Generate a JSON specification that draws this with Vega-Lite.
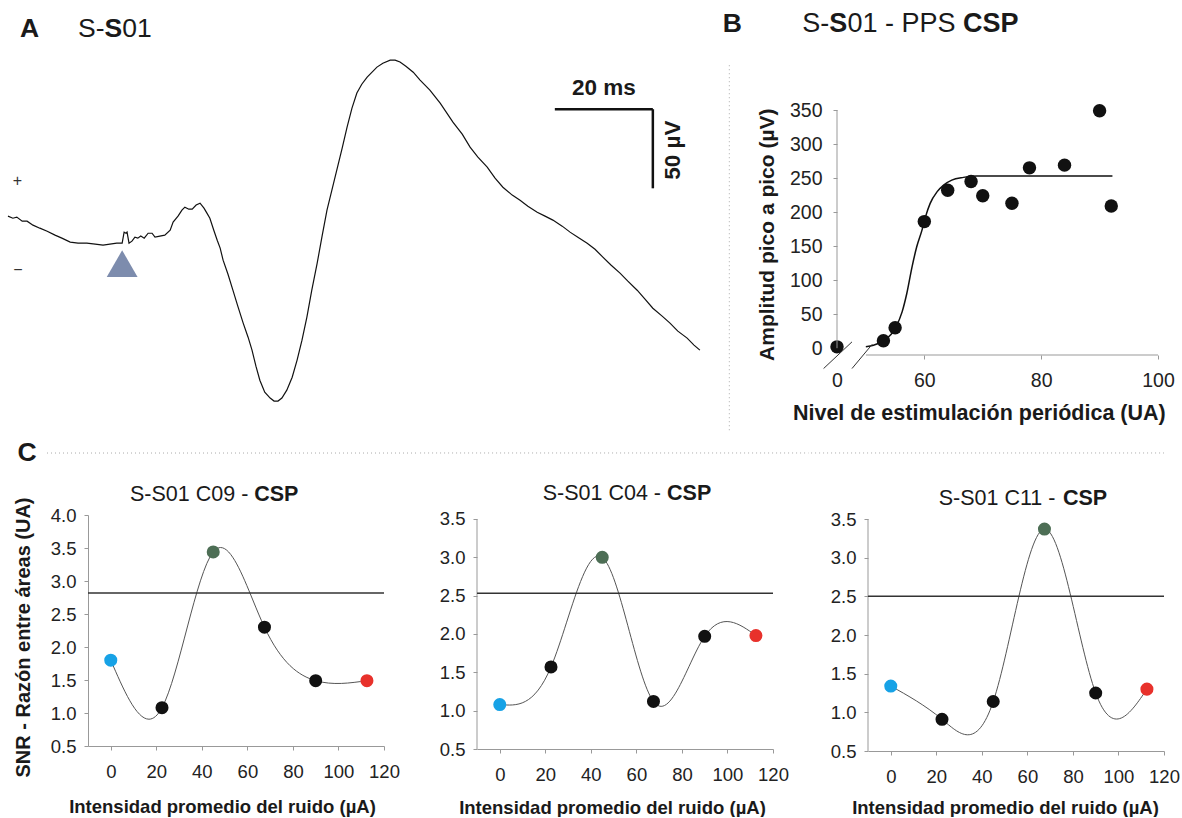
{
  "$schema": "https://vega.github.io/schema/vega-lite/v6.json",
  "autosize": {"type": "pad"},
  "padding": {"left": 5, "top": 5, "right": 0, "bottom": 0},
  "background": "white",
  "config": {
    "view": {"stroke": null},
    "font": "Liberation Sans",
    "axis": {"grid": false, "domainColor": "#999", "tickColor": "#999", "labelColor": "#222", "titleColor": "#1a1a1a", "labelFont": "Liberation Sans", "titleFont": "Liberation Sans", "labelOverlap": false, "labelFlush": false}
  },
  "datasets": {
    "trace": [
      {"t":0,"v":0},{"t":1.0,"v":-1.3},{"t":1.8,"v":-0.6},{"t":2.9,"v":-3.2},{"t":3.9,"v":-3.2},{"t":5.1,"v":-5.7},{"t":6.5,"v":-7.6},{"t":8.0,"v":-9.5},{"t":9.6,"v":-12.0},{"t":11.0,"v":-13.9},{"t":12.7,"v":-16.4},{"t":14.3,"v":-17.1},{"t":16.1,"v":-17.1},{"t":17.8,"v":-17.7},{"t":19.4,"v":-18.3},{"t":20.8,"v":-17.7},{"t":22.2,"v":-17.1},{"t":23.3,"v":-17.1},{"t":23.7,"v":-10.1},{"t":24.1,"v":-10.8},{"t":24.3,"v":-10.1},{"t":24.7,"v":-17.1},{"t":25.3,"v":-15.8},{"t":25.9,"v":-13.3},{"t":26.5,"v":-13.9},{"t":27.1,"v":-12.6},{"t":27.8,"v":-13.9},{"t":28.6,"v":-10.8},{"t":29.4,"v":-10.8},{"t":30.0,"v":-13.3},{"t":31.0,"v":-12.6},{"t":32.0,"v":-12.0},{"t":33.1,"v":-8.9},{"t":33.7,"v":-3.8},{"t":34.7,"v":0},{"t":35.5,"v":3.8},{"t":36.1,"v":5.7},{"t":36.9,"v":4.4},{"t":37.6,"v":4.4},{"t":38.4,"v":7.0},{"t":39.2,"v":8.2},{"t":40.0,"v":5.1},{"t":40.6,"v":1.9},{"t":41.2,"v":-1.3},{"t":42.0,"v":-8.9},{"t":42.7,"v":-15.2},{"t":43.3,"v":-20.2},{"t":43.9,"v":-27.8},{"t":44.9,"v":-36.7},{"t":45.9,"v":-46.8},{"t":46.9,"v":-56.9},{"t":48.0,"v":-67.6},{"t":49.0,"v":-76.5},{"t":49.8,"v":-84.7},{"t":50.6,"v":-94.8},{"t":51.4,"v":-103.7},{"t":52.4,"v":-111.3},{"t":53.5,"v":-115.0},{"t":54.3,"v":-116.9},{"t":55.1,"v":-116.9},{"t":55.9,"v":-115.0},{"t":56.9,"v":-110.0},{"t":58.0,"v":-101.8},{"t":59.0,"v":-91.0},{"t":60.0,"v":-78.4},{"t":61.0,"v":-63.8},{"t":62.0,"v":-46.8},{"t":63.1,"v":-29.7},{"t":64.1,"v":-12.6},{"t":65.1,"v":3.8},{"t":66.1,"v":16.4},{"t":67.1,"v":29.1},{"t":68.2,"v":43.0},{"t":69.2,"v":56.3},{"t":70.2,"v":68.3},{"t":71.2,"v":77.8},{"t":72.2,"v":83.4},{"t":73.3,"v":87.9},{"t":74.3,"v":91.0},{"t":75.3,"v":94.2},{"t":76.5,"v":96.7},{"t":78.0,"v":98.6},{"t":79.0,"v":98.6},{"t":80.0,"v":97.4},{"t":81.2,"v":94.8},{"t":82.7,"v":91.0},{"t":84.1,"v":86.0},{"t":86.1,"v":79.7},{"t":88.2,"v":71.4},{"t":90.8,"v":59.4},{"t":92.7,"v":51.8},{"t":94.3,"v":43.6},{"t":95.9,"v":37.3},{"t":97.8,"v":31.0},{"t":99.4,"v":24.0},{"t":101.0,"v":18.3},{"t":102.9,"v":13.3},{"t":104.5,"v":10.1},{"t":106.1,"v":6.3},{"t":108.0,"v":2.5},{"t":109.6,"v":0},{"t":111.2,"v":-2.5},{"t":113.1,"v":-6.3},{"t":114.7,"v":-10.1},{"t":116.3,"v":-13.3},{"t":118.2,"v":-17.1},{"t":119.8,"v":-20.9},{"t":121.4,"v":-25.9},{"t":123.1,"v":-31.0},{"t":124.9,"v":-36.0},{"t":126.5,"v":-41.1},{"t":128.4,"v":-46.8},{"t":130.0,"v":-52.5},{"t":131.6,"v":-58.2},{"t":133.5,"v":-63.2},{"t":135.1,"v":-67.6},{"t":136.7,"v":-72.7},{"t":138.6,"v":-77.1},{"t":140.0,"v":-81.5},{"t":141.2,"v":-84.7}
    ],
    "pps": [
      {"nivel":0,"amplitud":2},{"nivel":53,"amplitud":11},{"nivel":55,"amplitud":30},{"nivel":60,"amplitud":186},{"nivel":64,"amplitud":232},{"nivel":68,"amplitud":245},{"nivel":70,"amplitud":224},{"nivel":75,"amplitud":213},{"nivel":78,"amplitud":265},{"nivel":84,"amplitud":269},{"nivel":90,"amplitud":349},{"nivel":92,"amplitud":209}
    ],
    "ajuste": [
      {"nivel":49.9,"amplitud":2},{"nivel":51.3,"amplitud":4.4},{"nivel":53,"amplitud":10.8},{"nivel":55,"amplitud":28.9},{"nivel":56.2,"amplitud":53.4},{"nivel":57,"amplitud":80.4},{"nivel":57.9,"amplitud":119.6},{"nivel":58.7,"amplitud":149},{"nivel":59.6,"amplitud":173.5},{"nivel":60.2,"amplitud":193},{"nivel":61,"amplitud":212.8},{"nivel":62.2,"amplitud":230},{"nivel":63.3,"amplitud":239.7},{"nivel":64.7,"amplitud":247},{"nivel":66.7,"amplitud":251},{"nivel":69,"amplitud":253},{"nivel":92.2,"amplitud":253}
    ],
    "snr": [
      {"panel":"C09","ruido":0,"snr":1.80,"grupo":"inicial"},
      {"panel":"C09","ruido":22.5,"snr":1.08,"grupo":"intermedio"},
      {"panel":"C09","ruido":45,"snr":3.44,"grupo":"maximo"},
      {"panel":"C09","ruido":67.5,"snr":2.30,"grupo":"intermedio"},
      {"panel":"C09","ruido":90,"snr":1.49,"grupo":"intermedio"},
      {"panel":"C09","ruido":112.5,"snr":1.49,"grupo":"final"},
      {"panel":"C04","ruido":0,"snr":1.08,"grupo":"inicial"},
      {"panel":"C04","ruido":22.5,"snr":1.57,"grupo":"intermedio"},
      {"panel":"C04","ruido":45,"snr":3.00,"grupo":"maximo"},
      {"panel":"C04","ruido":67.5,"snr":1.12,"grupo":"intermedio"},
      {"panel":"C04","ruido":90,"snr":1.97,"grupo":"intermedio"},
      {"panel":"C04","ruido":112.5,"snr":1.98,"grupo":"final"},
      {"panel":"C11","ruido":0,"snr":1.34,"grupo":"inicial"},
      {"panel":"C11","ruido":22.5,"snr":0.91,"grupo":"intermedio"},
      {"panel":"C11","ruido":45,"snr":1.14,"grupo":"intermedio"},
      {"panel":"C11","ruido":67.5,"snr":3.37,"grupo":"maximo"},
      {"panel":"C11","ruido":90,"snr":1.25,"grupo":"intermedio"},
      {"panel":"C11","ruido":112.5,"snr":1.30,"grupo":"final"}
    ],
    "umbral": [
      {"panel":"C09","snr":2.82},
      {"panel":"C04","snr":2.53},
      {"panel":"C11","snr":2.50}
    ]
  },
  "spacing": 4,
  "vconcat": [
    {
      "hconcat": [
        {
          "width": 616,
          "height": 296,
          "layer": [
            {
              "data": {"name": "trace"},
              "mark": {"type": "line", "color": "#111", "strokeWidth": 1.2},
              "encoding": {
                "x": {"field": "t", "type": "quantitative", "scale": {"domain": [16.33, 142.04], "nice": false, "zero": false}, "axis": null},
                "y": {"field": "v", "type": "quantitative", "scale": {"domain": [-120, 67.1], "nice": false, "zero": false}, "axis": null}
              }
            },
            {
              "data": {"values": [{}]},
              "mark": {"type": "rule", "color": "#111", "strokeWidth": 2.5},
              "encoding": {"x": {"datum": 111.6}, "x2": {"datum": 131.6}, "y": {"datum": 67.6}}
            },
            {
              "data": {"values": [{}]},
              "mark": {"type": "rule", "color": "#111", "strokeWidth": 2.5},
              "encoding": {"x": {"datum": 131.6}, "y": {"datum": 67.6}, "y2": {"datum": 17.6}}
            },
            {
              "data": {"values": [{}]},
              "mark": {"type": "text", "text": "20 ms", "fontSize": 22.5, "fontWeight": "bold", "align": "center", "baseline": "middle", "color": "#1a1a1a"},
              "encoding": {"x": {"datum": 121.6}, "y": {"datum": 80.9}}
            },
            {
              "data": {"values": [{}]},
              "mark": {"type": "text", "text": "50 µV", "fontSize": 22.5, "fontWeight": "bold", "align": "center", "baseline": "middle", "angle": 270, "color": "#1a1a1a"},
              "encoding": {"x": {"datum": 135.7}, "y": {"datum": 41.7}}
            },
            {
              "data": {"values": [{}]},
              "mark": {"type": "text", "text": "+", "fontSize": 16, "align": "center", "baseline": "middle", "color": "#333"},
              "encoding": {"x": {"datum": 1.94}, "y": {"datum": 22.1}}
            },
            {
              "data": {"values": [{}]},
              "mark": {"type": "text", "text": "−", "fontSize": 16, "align": "center", "baseline": "middle", "color": "#333"},
              "encoding": {"x": {"datum": 2.04}, "y": {"datum": -34.1}}
            },
            {
              "data": {"values": [{}]},
              "mark": {"type": "point", "shape": "triangle-up", "size": 950, "filled": true, "color": "#7d8cad", "opacity": 1, "strokeWidth": 0},
              "encoding": {"x": {"datum": 23.3}, "y": {"datum": -30.0}}
            },
            {
              "data": {"values": [{}]},
              "mark": {"type": "text", "text": "A", "fontSize": 26.5, "fontWeight": "bold", "align": "center", "baseline": "alphabetic", "color": "#1a1a1a"},
              "encoding": {"x": {"datum": 4.39}, "y": {"datum": 113.0}}
            },
            {
              "data": {"values": [{}]},
              "mark": {"type": "text", "text": "S-", "fontSize": 26.5, "align": "left", "baseline": "alphabetic", "color": "#1a1a1a"},
              "encoding": {"x": {"datum": 14.29}, "y": {"datum": 113.0}}
            },
            {
              "data": {"values": [{}]},
              "mark": {"type": "text", "text": "S", "fontSize": 26.5, "fontWeight": "bold", "align": "left", "baseline": "alphabetic", "color": "#1a1a1a"},
              "encoding": {"x": {"datum": 19.69}, "y": {"datum": 113.0}}
            },
            {
              "data": {"values": [{}]},
              "mark": {"type": "text", "text": "01", "fontSize": 26.5, "align": "left", "baseline": "alphabetic", "color": "#1a1a1a"},
              "encoding": {"x": {"datum": 23.3}, "y": {"datum": 113.0}}
            }
          ]
        },
        {
          "width": 321,
          "height": 245,
          "layer": [
            {
              "data": {"name": "ajuste"},
              "mark": {"type": "line", "color": "#111", "strokeWidth": 1.5, "interpolate": "monotone"},
              "encoding": {
                "x": {"field": "nivel", "type": "quantitative",
                  "scale": {"domain": [0, 50, 100], "range": [0, 28.9, 321], "nice": false, "zero": false},
                  "axis": {"values": [0, 60, 80, 100], "tickCount": 20, "domain": false, "tickSize": 4, "labelOverlap": false, "labelFlush": false,
                    "tickOpacity": {"condition": {"test": "datum.value === 0", "value": 0}, "value": 1},
                    "labelFontSize": 19.5, "labelPadding": 12.5,
                    "title": "Nivel de estimulación periódica (UA)", "titleFontSize": 21.5, "titleFontWeight": "bold",
                    "titleX": 141.8, "titleY": 58.2, "titleAlign": "center", "titleBaseline": "middle"}},
                "y": {"field": "amplitud", "type": "quantitative",
                  "scale": {"domain": [-10, 350], "nice": false, "zero": false},
                  "axis": {"values": [0, 50, 100, 150, 200, 250, 300, 350], "tickCount": 20, "domain": false, "tickSize": 4, "labelOverlap": false, "labelFlush": false,
                    "labelFontSize": 19.5, "labelPadding": 11,
                    "title": "Amplitud pico a pico (µV)", "titleFontSize": 21, "titleFontWeight": "bold",
                    "titleX": -69.7, "titleY": 124.2, "titleAngle": 270, "titleAlign": "center", "titleBaseline": "middle"}}
              }
            },
            {
              "data": {"name": "pps"},
              "mark": {"type": "circle", "size": 180, "color": "#111", "opacity": 1},
              "encoding": {
                "x": {"field": "nivel", "type": "quantitative"},
                "y": {"field": "amplitud", "type": "quantitative"}
              }
            },
            {
              "data": {"values": [{}]},
              "mark": {"type": "rule", "color": "#999", "strokeWidth": 1},
              "encoding": {"x": {"datum": 0}, "y": {"datum": 0}, "y2": {"datum": 350}}
            },
            {
              "data": {"values": [{}]},
              "mark": {"type": "rule", "color": "#999", "strokeWidth": 1},
              "encoding": {"x": {"datum": 50}, "x2": {"datum": 100}, "y": {"datum": -10}}
            },
            {
              "data": {"values": [{}]},
              "mark": {"type": "rule", "color": "#333", "strokeWidth": 1},
              "encoding": {"x": {"datum": -23.2}, "y": {"datum": -29.9}, "x2": {"datum": 25.95}, "y2": {"datum": 9.3}}
            },
            {
              "data": {"values": [{}]},
              "mark": {"type": "rule", "color": "#333", "strokeWidth": 1},
              "encoding": {"x": {"datum": 25.95}, "y": {"datum": -29.9}, "x2": {"datum": 51.1}, "y2": {"datum": 5.9}}
            },
            {
              "data": {"values": [{}]},
              "mark": {"type": "rule", "color": "#aaa", "strokeWidth": 1, "strokeDash": [1, 3]},
              "encoding": {"x": {"datum": -186.3}, "y": {"datum": 415.8}, "y2": {"datum": -123.4}}
            },
            {
              "data": {"values": [{}]},
              "mark": {"type": "rule", "strokeOpacity": 0, "strokeWidth": 1},
              "encoding": {"x": {"datum": -211.94}, "y": {"datum": 504.0}, "y2": {"datum": 0}}
            },
            {
              "data": {"values": [{}]},
              "mark": {"type": "text", "text": "B", "fontSize": 26.5, "fontWeight": "bold", "align": "center", "baseline": "alphabetic", "color": "#1a1a1a"},
              "encoding": {"x": {"datum": -181.1}, "y": {"datum": 464.8}}
            },
            {
              "data": {"values": [{}]},
              "mark": {"type": "text", "text": "S-", "fontSize": 27, "align": "left", "baseline": "alphabetic", "color": "#1a1a1a"},
              "encoding": {"x": {"datum": -60.0}, "y": {"datum": 464.8}}
            },
            {
              "data": {"values": [{}]},
              "mark": {"type": "text", "text": "S", "fontSize": 27, "fontWeight": "bold", "align": "left", "baseline": "alphabetic", "color": "#1a1a1a"},
              "encoding": {"x": {"datum": -13.3}, "y": {"datum": 464.8}}
            },
            {
              "data": {"values": [{}]},
              "mark": {"type": "text", "text": "01 - PPS", "fontSize": 27, "align": "left", "baseline": "alphabetic", "color": "#1a1a1a"},
              "encoding": {"x": {"datum": 18.0}, "y": {"datum": 464.8}}
            },
            {
              "data": {"values": [{}]},
              "mark": {"type": "text", "text": "CSP", "fontSize": 27, "fontWeight": "bold", "align": "left", "baseline": "alphabetic", "color": "#1a1a1a"},
              "encoding": {"x": {"datum": 66.6}, "y": {"datum": 464.8}}
            }
          ]
        }
      ],
      "spacing": 10
    },
    {
      "hconcat": [
        {
          "width": 296,
          "height": 231,
          "layer": [
            {
              "data": {"name": "snr"},
              "transform": [{"filter": "datum.panel === 'C09'"}],
              "mark": {"type": "line", "interpolate": "natural", "color": "#555", "strokeWidth": 1},
              "encoding": {
                "x": {"field": "ruido", "type": "quantitative", "scale": {"domain": [-10, 120], "nice": false, "zero": false},
                  "axis": {"values": [0, 20, 40, 60, 80, 100, 120], "tickCount": 20, "tickSize": 4, "labelFontSize": 18.5, "labelPadding": 12, "labelOverlap": false, "labelFlush": false,
                    "title": "Intensidad promedio del ruido (µA)", "titleFontSize": 18.5, "titleFontWeight": "bold",
                    "titleX": 134, "titleY": 60, "titleAlign": "center", "titleBaseline": "middle"}},
                "y": {"field": "snr", "type": "quantitative", "scale": {"domain": [0.5, 4], "nice": false, "zero": false},
                  "axis": {"values": [0.5, 1, 1.5, 2, 2.5, 3, 3.5, 4], "tickCount": 20, "format": ".1f", "tickSize": 4, "labelFontSize": 18.5, "labelPadding": 8, "labelOverlap": false, "labelFlush": false,
                    "title": "SNR - Razón entre áreas (UA)", "titleFontSize": 20, "titleFontWeight": "bold",
                    "titleX": -65, "titleY": 122, "titleAngle": 270, "titleAlign": "center", "titleBaseline": "middle"}}
              }
            },
            {
              "data": {"name": "umbral"},
              "transform": [{"filter": "datum.panel === 'C09'"}],
              "mark": {"type": "rule", "color": "#333", "strokeWidth": 1.5},
              "encoding": {"y": {"field": "snr", "type": "quantitative"}}
            },
            {
              "data": {"name": "snr"},
              "transform": [{"filter": "datum.panel === 'C09'"}],
              "mark": {"type": "circle", "size": 170, "opacity": 1},
              "encoding": {
                "x": {"field": "ruido", "type": "quantitative"},
                "y": {"field": "snr", "type": "quantitative"},
                "color": {"field": "grupo", "type": "nominal", "legend": null,
                  "scale": {"domain": ["inicial", "intermedio", "maximo", "final"], "range": ["#17a2e6", "#111111", "#4d6e55", "#e8312b"]}}
              }
            },
            {
              "data": {"values": [{}]},
              "mark": {"type": "rule", "strokeOpacity": 0, "strokeWidth": 1},
              "encoding": {"x": {"datum": -45.1}, "x2": {"datum": -10}, "y": {"datum": 5.18}}
            },
            {
              "data": {"values": [{}]},
              "mark": {"type": "rule", "color": "#aaa", "strokeWidth": 1, "strokeDash": [1, 3]},
              "encoding": {"x": {"datum": -28.0}, "x2": {"datum": 135.15}, "y": {"datum": 4.939}}
            },
            {
              "data": {"values": [{}]},
              "mark": {"type": "text", "text": "C", "fontSize": 26.5, "fontWeight": "bold", "align": "center", "baseline": "alphabetic", "color": "#1a1a1a"},
              "encoding": {"x": {"datum": -36.8}, "y": {"datum": 4.823}}
            },
            {
              "data": {"values": [{}]},
              "mark": {"type": "text", "text": "S-S01 C09 -", "fontSize": 21.5, "align": "left", "baseline": "alphabetic", "color": "#1a1a1a"},
              "encoding": {"x": {"datum": 8.45}, "y": {"datum": 4.217}}
            },
            {
              "data": {"values": [{}]},
              "mark": {"type": "text", "text": "CSP", "fontSize": 21.5, "fontWeight": "bold", "align": "left", "baseline": "alphabetic", "color": "#1a1a1a"},
              "encoding": {"x": {"datum": 63.0}, "y": {"datum": 4.217}}
            }
          ]
        },
        {
          "width": 296,
          "height": 234,
          "layer": [
            {
              "data": {"name": "snr"},
              "transform": [{"filter": "datum.panel === 'C04'"}],
              "mark": {"type": "line", "interpolate": "natural", "color": "#555", "strokeWidth": 1},
              "encoding": {
                "x": {"field": "ruido", "type": "quantitative", "scale": {"domain": [-10, 120], "nice": false, "zero": false},
                  "axis": {"values": [0, 20, 40, 60, 80, 100, 120], "tickCount": 20, "tickSize": 4, "labelFontSize": 18.5, "labelPadding": 12, "labelOverlap": false, "labelFlush": false,
                    "title": "Intensidad promedio del ruido (µA)", "titleFontSize": 18.5, "titleFontWeight": "bold",
                    "titleX": 135, "titleY": 58.3, "titleAlign": "center", "titleBaseline": "middle"}},
                "y": {"field": "snr", "type": "quantitative", "scale": {"domain": [0.5, 3.552], "nice": false, "zero": false},
                  "axis": {"values": [0.5, 1, 1.5, 2, 2.5, 3, 3.5], "tickCount": 20, "format": ".1f", "domain": false, "tickSize": 4, "labelFontSize": 18.5, "labelPadding": 8, "labelOverlap": false, "labelFlush": false, "title": null}}
              }
            },
            {
              "data": {"values": [{}]},
              "mark": {"type": "rule", "color": "#999", "strokeWidth": 1},
              "encoding": {"x": {"datum": -10}, "y": {"datum": 0.5}, "y2": {"datum": 3.5}}
            },
            {
              "data": {"name": "umbral"},
              "transform": [{"filter": "datum.panel === 'C04'"}],
              "mark": {"type": "rule", "color": "#333", "strokeWidth": 1.5},
              "encoding": {"y": {"field": "snr", "type": "quantitative"}}
            },
            {
              "data": {"name": "snr"},
              "transform": [{"filter": "datum.panel === 'C04'"}],
              "mark": {"type": "circle", "size": 170, "opacity": 1},
              "encoding": {
                "x": {"field": "ruido", "type": "quantitative"},
                "y": {"field": "snr", "type": "quantitative"},
                "color": {"field": "grupo", "type": "nominal", "legend": null,
                  "scale": {"domain": ["inicial", "intermedio", "maximo", "final"], "range": ["#17a2e6", "#111111", "#4d6e55", "#e8312b"]}}
              }
            },
            {
              "data": {"values": [{}]},
              "mark": {"type": "rule", "color": "#aaa", "strokeWidth": 1, "strokeDash": [1, 3]},
              "encoding": {"x": {"datum": -35.0}, "x2": {"datum": 135.6}, "y": {"datum": 4.361}}
            },
            {
              "data": {"values": [{}]},
              "mark": {"type": "text", "text": "S-S01 C04 -", "fontSize": 21.5, "align": "left", "baseline": "alphabetic", "color": "#1a1a1a"},
              "encoding": {"x": {"datum": 18.85}, "y": {"datum": 3.752}}
            },
            {
              "data": {"values": [{}]},
              "mark": {"type": "text", "text": "CSP", "fontSize": 21.5, "fontWeight": "bold", "align": "left", "baseline": "alphabetic", "color": "#1a1a1a"},
              "encoding": {"x": {"datum": 73.45}, "y": {"datum": 3.752}}
            }
          ]
        },
        {
          "width": 296,
          "height": 236,
          "layer": [
            {
              "data": {"name": "snr"},
              "transform": [{"filter": "datum.panel === 'C11'"}],
              "mark": {"type": "line", "interpolate": "natural", "color": "#555", "strokeWidth": 1},
              "encoding": {
                "x": {"field": "ruido", "type": "quantitative", "scale": {"domain": [-10, 120], "nice": false, "zero": false},
                  "axis": {"values": [0, 20, 40, 60, 80, 100, 120], "tickCount": 20, "tickSize": 4, "labelFontSize": 18.5, "labelPadding": 12, "labelOverlap": false, "labelFlush": false,
                    "title": "Intensidad promedio del ruido (µA)", "titleFontSize": 18.5, "titleFontWeight": "bold",
                    "titleX": 137, "titleY": 56.3, "titleAlign": "center", "titleBaseline": "middle"}},
                "y": {"field": "snr", "type": "quantitative", "scale": {"domain": [0.5, 3.552], "nice": false, "zero": false},
                  "axis": {"values": [0.5, 1, 1.5, 2, 2.5, 3, 3.5], "tickCount": 20, "format": ".1f", "domain": false, "tickSize": 4, "labelFontSize": 18.5, "labelPadding": 8, "labelOverlap": false, "labelFlush": false, "title": null}}
              }
            },
            {
              "data": {"values": [{}]},
              "mark": {"type": "rule", "color": "#999", "strokeWidth": 1},
              "encoding": {"x": {"datum": -10}, "y": {"datum": 0.5}, "y2": {"datum": 3.5}}
            },
            {
              "data": {"name": "umbral"},
              "transform": [{"filter": "datum.panel === 'C11'"}],
              "mark": {"type": "rule", "color": "#333", "strokeWidth": 1.5},
              "encoding": {"y": {"field": "snr", "type": "quantitative"}}
            },
            {
              "data": {"name": "snr"},
              "transform": [{"filter": "datum.panel === 'C11'"}],
              "mark": {"type": "circle", "size": 170, "opacity": 1},
              "encoding": {
                "x": {"field": "ruido", "type": "quantitative"},
                "y": {"field": "snr", "type": "quantitative"},
                "color": {"field": "grupo", "type": "nominal", "legend": null,
                  "scale": {"domain": ["inicial", "intermedio", "maximo", "final"], "range": ["#17a2e6", "#111111", "#4d6e55", "#e8312b"]}}
              }
            },
            {
              "data": {"values": [{}]},
              "mark": {"type": "rule", "color": "#aaa", "strokeWidth": 1, "strokeDash": [1, 3]},
              "encoding": {"x": {"datum": -35.0}, "x2": {"datum": 120}, "y": {"datum": 4.354}}
            },
            {
              "data": {"values": [{}]},
              "mark": {"type": "text", "text": "S-S01 C11 -", "fontSize": 21.5, "align": "left", "baseline": "alphabetic", "color": "#1a1a1a"},
              "encoding": {"x": {"datum": 21.05}, "y": {"datum": 3.685}}
            },
            {
              "data": {"values": [{}]},
              "mark": {"type": "text", "text": "CSP", "fontSize": 21.5, "fontWeight": "bold", "align": "left", "baseline": "alphabetic", "color": "#1a1a1a"},
              "encoding": {"x": {"datum": 75.6}, "y": {"datum": 3.685}}
            }
          ]
        }
      ],
      "spacing": 0
    }
  ]
}
